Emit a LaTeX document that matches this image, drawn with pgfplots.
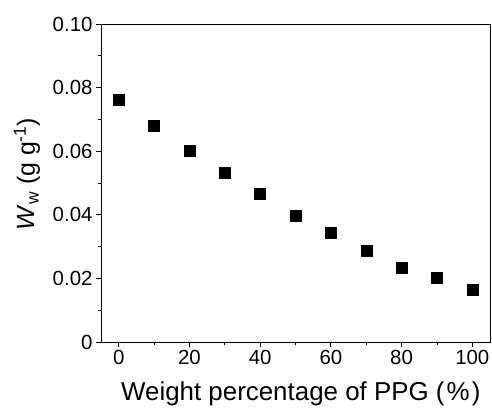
\documentclass[border=0pt]{standalone}
\usepackage{pgfplots}
\pgfplotsset{compat=1.18}
\usepackage{fontspec}
\setmainfont{Liberation Sans}

\begin{document}
\begin{tikzpicture}
	\path[use as bounding box] (-101bp,-70bp) rectangle (391bp,342bp);
	\begin{axis}[
		at={(0,0)}, anchor=south west,
		scale only axis, width=389bp, height=318bp,
		xmin=-5, xmax=105, ymin=0, ymax=0.1,
		xtick={0,20,40,60,80,100}, minor xtick={10,30,50,70,90},
		xticklabels={0,20,40,60,80,100},
		ytick={0,0.02,0.04,0.06,0.08,0.1}, minor ytick={0.01,0.03,0.05,0.07,0.09},
		yticklabels={0,0.02,0.04,0.06,0.08,0.10},
		tick align=outside, tick pos=left,
		major tick length=5bp, minor tick length=3bp,
		axis line style={line width=0.9bp},
		every tick/.style={black, line width=0.9bp},
		ticklabel style={font=\fontsize{20.5}{22}\selectfont},
		xlabel={Weight percentage of PPG (\kern0.08em\%\kern0.08em)},
		ylabel={\textit{W}\textsubscript{w} (g g\textsuperscript{-1})},
		xlabel style={font=\fontsize{26}{28}\selectfont, at={(axis description cs:0.5136,-0.1824)}, anchor=base},
		ylabel style={font=\fontsize{25}{28}\selectfont, at={(axis description cs:-0.1697,0.528)}, anchor=base},
		]
		\addplot[only marks, mark=square*, mark size=5.5bp, black]
		coordinates {(0,0.0761)(10,0.0680)(20,0.0602)(30,0.0532)(40,0.0466)(50,0.0396)(60,0.0344)(70,0.0286)(80,0.0234)(90,0.0203)(100,0.0163)};
	\end{axis}
\end{tikzpicture}
\end{document}
